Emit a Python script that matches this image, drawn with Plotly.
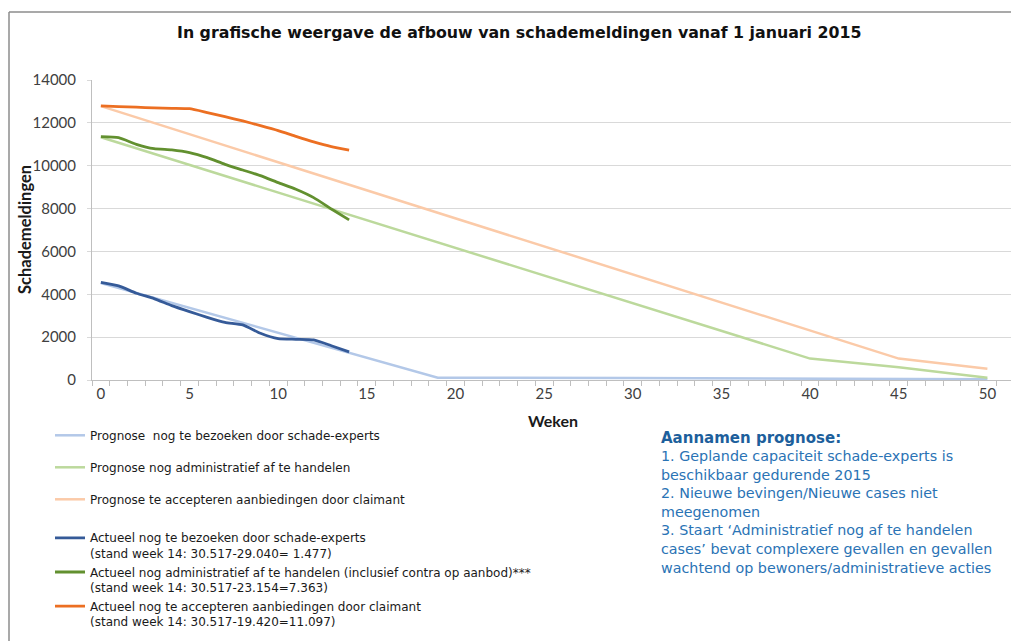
import plotly.graph_objects as go

# ---------------- data ----------------
weeks_actual = list(range(0, 15))
act_bezoeken = [4560, 4390, 4050, 3800, 3470, 3190, 2925, 2690, 2570, 2180, 1930, 1900, 1870, 1600, 1310]
act_admin = [11355, 11310, 11000, 10795, 10735, 10610, 10375, 10065, 9800, 9535, 9210, 8900, 8510, 7980, 7470]
act_accept = [12790, 12760, 12730, 12700, 12680, 12660, 12480, 12290, 12090, 11870, 11640, 11370, 11110, 10890, 10730]

weeks_prog_bezoeken = [0, 19, 30, 40, 50]
prog_bezoeken = [4530, 110, 90, 50, 30]
weeks_prog_admin = [0, 40, 45, 50]
prog_admin = [11330, 1000, 600, 110]
weeks_prog_accept = [0, 40, 45, 50]
prog_accept = [12780, 2300, 1000, 520]

x_tickvals = [0, 5, 10, 15, 20, 25, 30, 35, 40, 45, 50]
y_tickvals = [0, 2000, 4000, 6000, 8000, 10000, 12000, 14000]
y_ticktext = ["0", "2000", "4000", "6000", "8000", "10000", "12000", "14000"]

names = [
    "Prognose  nog te bezoeken door schade-experts",
    "Prognose nog administratief af te handelen",
    "Prognose te accepteren aanbiedingen door claimant",
    "Actueel nog te bezoeken door schade-experts<br>(stand week 14: 30.517-29.040= 1.477)",
    "Actueel nog administratief af te handelen (inclusief contra op aanbod)***<br>(stand week 14: 30.517-23.154=7.363)",
    "Actueel nog te accepteren aanbiedingen door claimant<br>(stand week 14: 30.517-19.420=11.097)",
]
colors = ["#b3c8e8", "#bcd99c", "#fbcaa8", "#355a98", "#62902f", "#ec6f22"]

title_text = "<b>In grafische weergave de afbouw van schademeldingen vanaf 1 januari 2015</b>"
y_title = "<b>Schademeldingen</b>"
notes_head = "<b>Aannamen prognose:</b>"
notes_body = ("1. Geplande capaciteit schade-experts is<br>beschikbaar gedurende 2015<br>"
              "2. Nieuwe bevingen/Nieuwe cases niet<br>meegenomen<br>"
              "3. Staart \u2018Administratief nog af te handelen<br>cases\u2019 bevat complexere gevallen en gevallen<br>"
              "wachtend op bewoners/administratieve acties")

# ---------------- geometry (page pixels -> paper); page has an 8px body margin ----------------
OFF = 8
W, H = 1019 - OFF, 641 - OFF
PL, PR, PT, PB = 92, 1014, 80, 380          # plot area in page pixels
L, T = PL - OFF, PT - OFF
R, B = W - (PR - OFF), H - (PB - OFF)
PW, PH = PR - PL, PB - PT


def px(xp):
    return (xp - PL) / PW


def py(yp):
    return (PB - yp) / PH


fig = go.Figure()

prog = [(weeks_prog_bezoeken, prog_bezoeken), (weeks_prog_admin, prog_admin), (weeks_prog_accept, prog_accept)]
for i, (xs, ys) in enumerate(prog):
    fig.add_trace(go.Scatter(x=xs, y=ys, mode="lines", name=names[i],
                             line=dict(color=colors[i], width=2.5),
                             legend="legend", legendgroup=f"g{i}"))

acts = [act_bezoeken, act_admin, act_accept]
for j, ys in enumerate(acts):
    fig.add_trace(go.Scatter(x=weeks_actual, y=ys, mode="lines", name=names[3 + j],
                             line=dict(color=colors[3 + j], width=2.8, shape="spline", smoothing=0.5),
                             legend="legend2"))

legend_font = dict(family="DejaVu Sans", size=12, color="#1a1a1a")

fig.update_layout(
    width=W, height=H,
    margin=dict(l=L, r=R, t=T, b=B, autoexpand=False),
    paper_bgcolor="white", plot_bgcolor="white",
    font=dict(family="Lato", color="#404040"),
    showlegend=True,
    legend=dict(x=px(50), y=py(421), xanchor="left", yanchor="top", font=legend_font,
                tracegroupgap=13, bgcolor="rgba(0,0,0,0)", valign="top", itemwidth=30),
    legend2=dict(x=px(50), y=py(523.5), xanchor="left", yanchor="top", font=legend_font,
                 tracegroupgap=0, bgcolor="rgba(0,0,0,0)", valign="top", itemwidth=30),
    xaxis=dict(
        range=[-0.5, 51.5], tickmode="array", tickvals=x_tickvals,
        ticks="", showgrid=False, zeroline=False,
        showline=True, linecolor="#bfbfbf", linewidth=1,
        tickfont=dict(family="Lato", size=15, color="#404040"),
        minor=dict(ticks="outside", tick0=-0.5, dtick=1, ticklen=5, tickcolor="#bfbfbf", showgrid=False),
        title=dict(text="<b>Weken</b>", font=dict(family="Lato", size=16, color="#1a1a1a"), standoff=14),
    ),
    yaxis=dict(
        range=[0, 14000], tickmode="array", tickvals=y_tickvals, ticktext=y_ticktext,
        showgrid=True, gridcolor="#d9d9d9", gridwidth=1, zeroline=False,
        showline=True, linecolor="#bfbfbf", linewidth=1,
        ticks="outside", ticklen=4, tickcolor="#d9d9d9",
        tickfont=dict(family="Lato", size=15, color="#404040"),
        ticklabelstandoff=8,
    ),
    annotations=[
        dict(text=title_text, xref="paper", yref="paper", x=px(519), y=py(32), xanchor="center", yanchor="middle",
             showarrow=False, font=dict(family="DejaVu Sans", size=15.8, color="#111111")),
        dict(text=y_title, xref="paper", yref="paper", x=px(25), y=py(230), xanchor="center", yanchor="middle",
             textangle=-90, showarrow=False, font=dict(family="Lato", size=16.5, color="#1a1a1a")),
        dict(text=notes_head, xref="paper", yref="paper", x=px(659), y=py(426.5), xanchor="left", yanchor="top",
             showarrow=False, align="left", font=dict(family="DejaVu Sans", size=15, color="#1d5f9c")),
        dict(text=notes_body, xref="paper", yref="paper", x=px(659), y=py(446), xanchor="left", yanchor="top",
             showarrow=False, align="left", font=dict(family="DejaVu Sans", size=14.3, color="#2a73b5")),
    ],
    shapes=[
        dict(type="line", xref="paper", yref="paper", x0=px(9), x1=px(1019), y0=py(12), y1=py(12),
             line=dict(color="#8c8c8c", width=1.5)),
        dict(type="line", xref="paper", yref="paper", x0=px(9), x1=px(9), y0=py(12), y1=py(641),
             line=dict(color="#8c8c8c", width=1.5)),
    ],
)

fig.write_html(
    "out.html",
    post_script="document.documentElement.style.overflow='hidden';document.body.style.overflow='hidden';",
)
